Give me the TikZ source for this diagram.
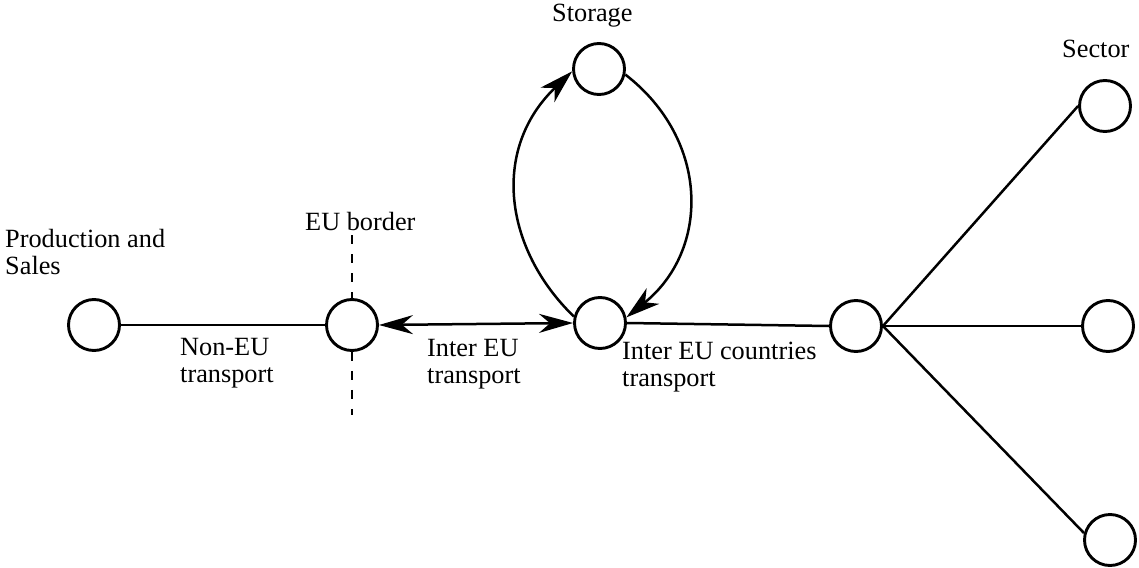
\documentclass[tikz,border=0pt]{standalone}
\usepackage{fontspec}
\setmainfont{Liberation Serif}
\usetikzlibrary{arrows.meta}
\begin{document}
\begin{tikzpicture}[x=1pt,y=-1pt,
  hub/.style={circle,draw,line width=2.9pt,minimum size=51pt,inner sep=0pt},
  link/.style={line width=2.5pt},
  tip/.style={-{Stealth[length=34pt,width=20pt,inset=10pt]}},
  tips/.style={{Stealth[length=34pt,width=19pt,inset=11pt]}-{Stealth[length=34pt,width=19pt,inset=11pt]}},
  lbl/.style={font=\fontsize{26.3}{26.5}\selectfont, inner sep=0pt, align=left, anchor=base west},
  border/.style={line width=2.3pt, dash pattern=on 9pt off 10pt}]
\useasboundingbox (0,0) rectangle (1139,567);

\node[hub] (A) at (94,325) {};
\node[hub] (B) at (352,325) {};
\node[hub] (C) at (600,323) {};
\node[hub] (S) at (599,69) {};
\node[hub] (D) at (856,326) {};
\node[hub] (E1) at (1105,106) {};
\node[hub] (E2) at (1108,326) {};
\node[hub] (E3) at (1110,540) {};

\coordinate (bt) at (352,235);
\coordinate (bb) at (352,415);
\draw[border] (bt) -- (B.north);
\draw[border] (B.south) -- (bb);

\draw[link] (A) -- (B);
\draw[link,tips] (B.east) -- (C.west);
\draw[link] (C.east) -- (D.west);
\draw[link] (D.east) -- (E1.west);
\draw[link] (D.east) -- (E2.west);
\draw[link] (D.east) -- (E3.165);

\draw[link,tip] (C.166) .. controls (505,250) and (490,150) .. (S.185);
\draw[link,tip] (S.-12) .. controls (710,140) and (710,250) .. (C.12);

\node[lbl] (tprod) at (5,274) {Production and\\Sales};
\node[lbl] (tborder) at (305,230) {EU border};
\node[lbl] (tnoneu) at (180,382) {Non-EU\\transport};
\node[lbl] (tinter) at (427,383) {Inter EU\\transport};
\node[lbl] (tcountries) at (622,386) {Inter EU countries\\transport};
\node[lbl] (tstorage) at (552,22) {Storage};
\node[lbl] (tsector) at (1062,58) {Sector};
\end{tikzpicture}
\end{document}
